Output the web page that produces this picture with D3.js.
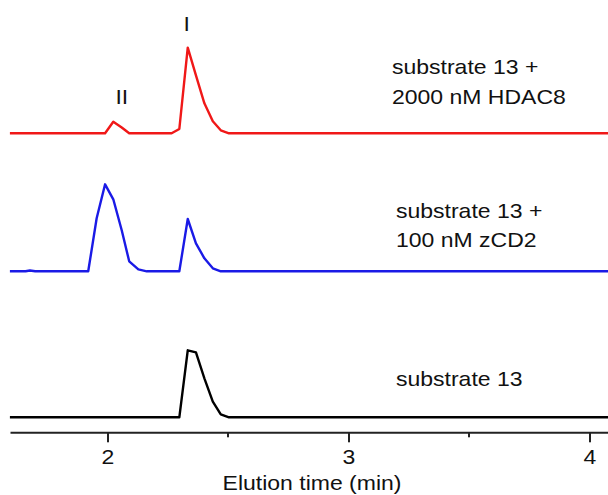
<!DOCTYPE html>
<html>
<head>
<meta charset="utf-8">
<script src="https://cdn.jsdelivr.net/npm/d3@7"></script>
<style>
  body { margin: 0; background: #fff; }
  svg { display: block; }
  text { font-family: "Liberation Sans", Arial, sans-serif; fill: #111; }
</style>
</head>
<body>
<script>
// elution times (min) and signal (arbitrary units)
const redTime   = [1.595, 1.990, 2.024, 2.059, 2.090, 2.266, 2.298, 2.333, 2.367, 2.402, 2.437, 2.470, 2.504, 4.077];
const redValue  = [0,     0,     11.6,  5.8,   0,     0,     4.3,   85.6,  58,    30,    12,    3,     0,     0];
const blueTime  = [1.595, 1.660, 1.678, 1.700, 1.920, 1.955, 1.990, 2.024, 2.059, 2.090, 2.128, 2.163, 2.298, 2.333, 2.367, 2.402, 2.437, 2.470, 4.077];
const blueValue = [0,     0,     0.8,   0,     0,     53,    87,    72,    41,    10,    2,     0,     0,     52.3,  28,    13,    3,     0,     0];
const blackTime  = [1.595, 2.298, 2.333, 2.367, 2.402, 2.437, 2.470, 2.504, 4.077];
const blackValue = [0,     0,     67,    65,    39,    15.6,  3,     0,     0];

const traceOffsets = [284, 146, 0];
const traceColors = ['#f01818', '#1a1ae6', '#000'];
const traceLabels = [
  ['substrate 13 +', '2000 nM HDAC8'],
  ['substrate 13 +', '100 nM zCD2'],
  ['substrate 13']
];
const peakNames = ['I', 'II'];
const peakTimes = [2.333, 2.024];
const majorTicks = [2, 3, 4];
const minorTicks = [2.5, 3.5];
const xTitle = 'Elution time (min)';

const W = 608, H = 495;
const fs = 20;
const stretch = 1.15;

const svg = d3.select('body').append('svg').attr('width', W).attr('height', H);

const x = d3.scaleLinear().domain([1.5954, 4.0768]).range([10, 608]);
const y = d3.scaleLinear().domain([0, 300]).range([417.3, 117.3]);

const traces = [
  d3.zip(redTime, redValue),
  d3.zip(blueTime, blueValue),
  d3.zip(blackTime, blackValue)
];

traces.forEach((pts, i) => {
  const line = d3.line()
    .x(d => x(d[0]))
    .y(d => y(d[1] + traceOffsets[i]));
  svg.append('path')
    .datum(pts)
    .attr('d', line)
    .attr('fill', 'none')
    .attr('stroke', traceColors[i])
    .attr('stroke-width', 2.4)
    .attr('stroke-linejoin', 'round');
});

// labels next to each trace
const labelPos = [
  { x: 392, y: [74, 104] },
  { x: 396, y: [218, 247] },
  { x: 396, y: [385.5] }
];
traceLabels.forEach((lines, i) => {
  lines.forEach((t, j) => {
    svg.append('text')
      .attr('transform', `translate(${labelPos[i].x},${labelPos[i].y[j]}) scale(${stretch},1)`)
      .attr('font-size', fs)
      .text(t);
  });
});

// peak markers above the red trace
const peakY = [31, 104];
peakNames.forEach((p, i) => {
  const xi = i === 0 ? x(peakTimes[i]) - 1 : x(peakTimes[i]) + 8.5;
  svg.append('text')
    .attr('transform', `translate(${xi},${peakY[i]}) scale(${stretch},1)`)
    .attr('text-anchor', 'middle')
    .attr('font-size', fs)
    .text(p);
});

// x axis
const axisG = svg.append('g')
  .attr('transform', 'translate(0,432.3)')
  .call(d3.axisBottom(x).tickValues(majorTicks).tickSize(10).tickSizeOuter(0).tickFormat(d3.format('d')));
axisG.select('.domain').attr('stroke-width', 2).attr('stroke', '#222');
axisG.selectAll('.tick line').attr('stroke-width', 2).attr('stroke', '#222');
axisG.selectAll('.tick text')
  .attr('font-size', fs)
  .attr('font-family', '"Liberation Sans", Arial, sans-serif')
  .attr('fill', '#111')
  .attr('y', 32)
  .attr('dy', 0)
  .attr('transform', `scale(${stretch},1)`);

axisG.selectAll('.minor')
  .data(minorTicks)
  .join('line')
  .attr('class', 'minor')
  .attr('x1', d => x(d)).attr('x2', d => x(d))
  .attr('y1', 0).attr('y2', 5)
  .attr('stroke', '#222')
  .attr('stroke-width', 2);

svg.append('text')
  .attr('transform', `translate(312,490) scale(${stretch},1)`)
  .attr('text-anchor', 'middle')
  .attr('font-size', fs)
  .text(xTitle);
</script>
</body>
</html>
